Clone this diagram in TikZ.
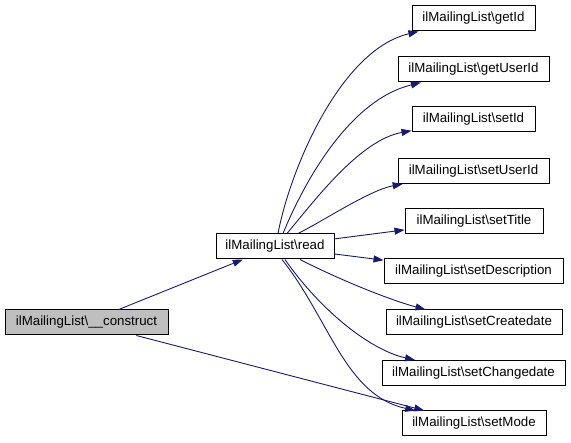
\documentclass[tikz,border=0pt]{standalone}
\usepackage{fontspec}
\setmainfont{Liberation Sans}
\usetikzlibrary{arrows.meta}
\definecolor{edgecol}{HTML}{191970}
\definecolor{grayfill}{HTML}{BFBFBF}
\begin{document}
\begin{tikzpicture}[x=1pt,y=-1pt,
  box/.style={draw=black,line width=1pt,fill=white,inner sep=0pt,minimum height=25pt,font=\fontsize{13.3}{16}\selectfont},
  edge/.style={draw=edgecol,line width=0.9pt,-{Triangle[length=10pt,width=7pt]}}]
\useasboundingbox (0,0) rectangle (571,443);
\node[box,fill=grayfill,minimum width=163pt] (construct) at (86.5,322.5) {ilMailingList\textbackslash\_\_construct};
\node[box,minimum width=118pt] (read) at (275,246.5) {ilMailingList\textbackslash read};
\node[box,minimum width=123pt] (getId) at (473.5,18.5) {ilMailingList\textbackslash getId};
\node[box,minimum width=151pt] (getUserId) at (473.5,69.5) {ilMailingList\textbackslash getUserId};
\node[box,minimum width=123pt] (setId) at (473.5,119.5) {ilMailingList\textbackslash setId};
\node[box,minimum width=151pt] (setUserId) at (473.5,171) {ilMailingList\textbackslash setUserId};
\node[box,minimum width=138pt] (setTitle) at (474,221) {ilMailingList\textbackslash setTitle};
\node[box,minimum width=179pt] (setDescription) at (473.5,271.5) {ilMailingList\textbackslash setDescription};
\node[box,minimum width=176pt] (setCreatedate) at (474,322.5) {ilMailingList\textbackslash setCreatedate};
\node[box,minimum width=183pt] (setChangedate) at (473.5,373) {ilMailingList\textbackslash setChangedate};
\node[box,minimum width=144pt] (setMode) at (474,423.5) {ilMailingList\textbackslash setMode};
\coordinate (c1) at (280,233);
\draw[edge] (construct) -- (read);
\draw[edge] (construct) -- (setMode);
\draw[edge] (read.north) ++(3,0) coordinate (s1) (s1) .. controls (290,170) and (340,50) .. (getId);
\draw[edge] (read.north) ++(8,0) coordinate (s2) (s2) .. controls (305,180) and (350,100) .. (getUserId);
\draw[edge] (read.north) ++(12,0) coordinate (s3) (s3) .. controls (315,200) and (360,140) .. (setId);
\draw[edge] (read.north) ++(23,0) coordinate (s4) (s4) .. controls (325,220) and (370,190) .. (setUserId);
\draw[edge] (read) -- (setTitle);
\draw[edge] (read) -- (setDescription);
\draw[edge] (read.south) ++(25,0) coordinate (s7) (s7) .. controls (340,280) and (390,300) .. (setCreatedate);
\draw[edge] (read.south) ++(10,0) coordinate (s8) (s8) .. controls (320,310) and (370,350) .. (setChangedate);
\draw[edge] (read.south) ++(7,0) coordinate (s9) (s9) .. controls (330,320) and (345,395) .. (setMode);
\end{tikzpicture}
\end{document}
